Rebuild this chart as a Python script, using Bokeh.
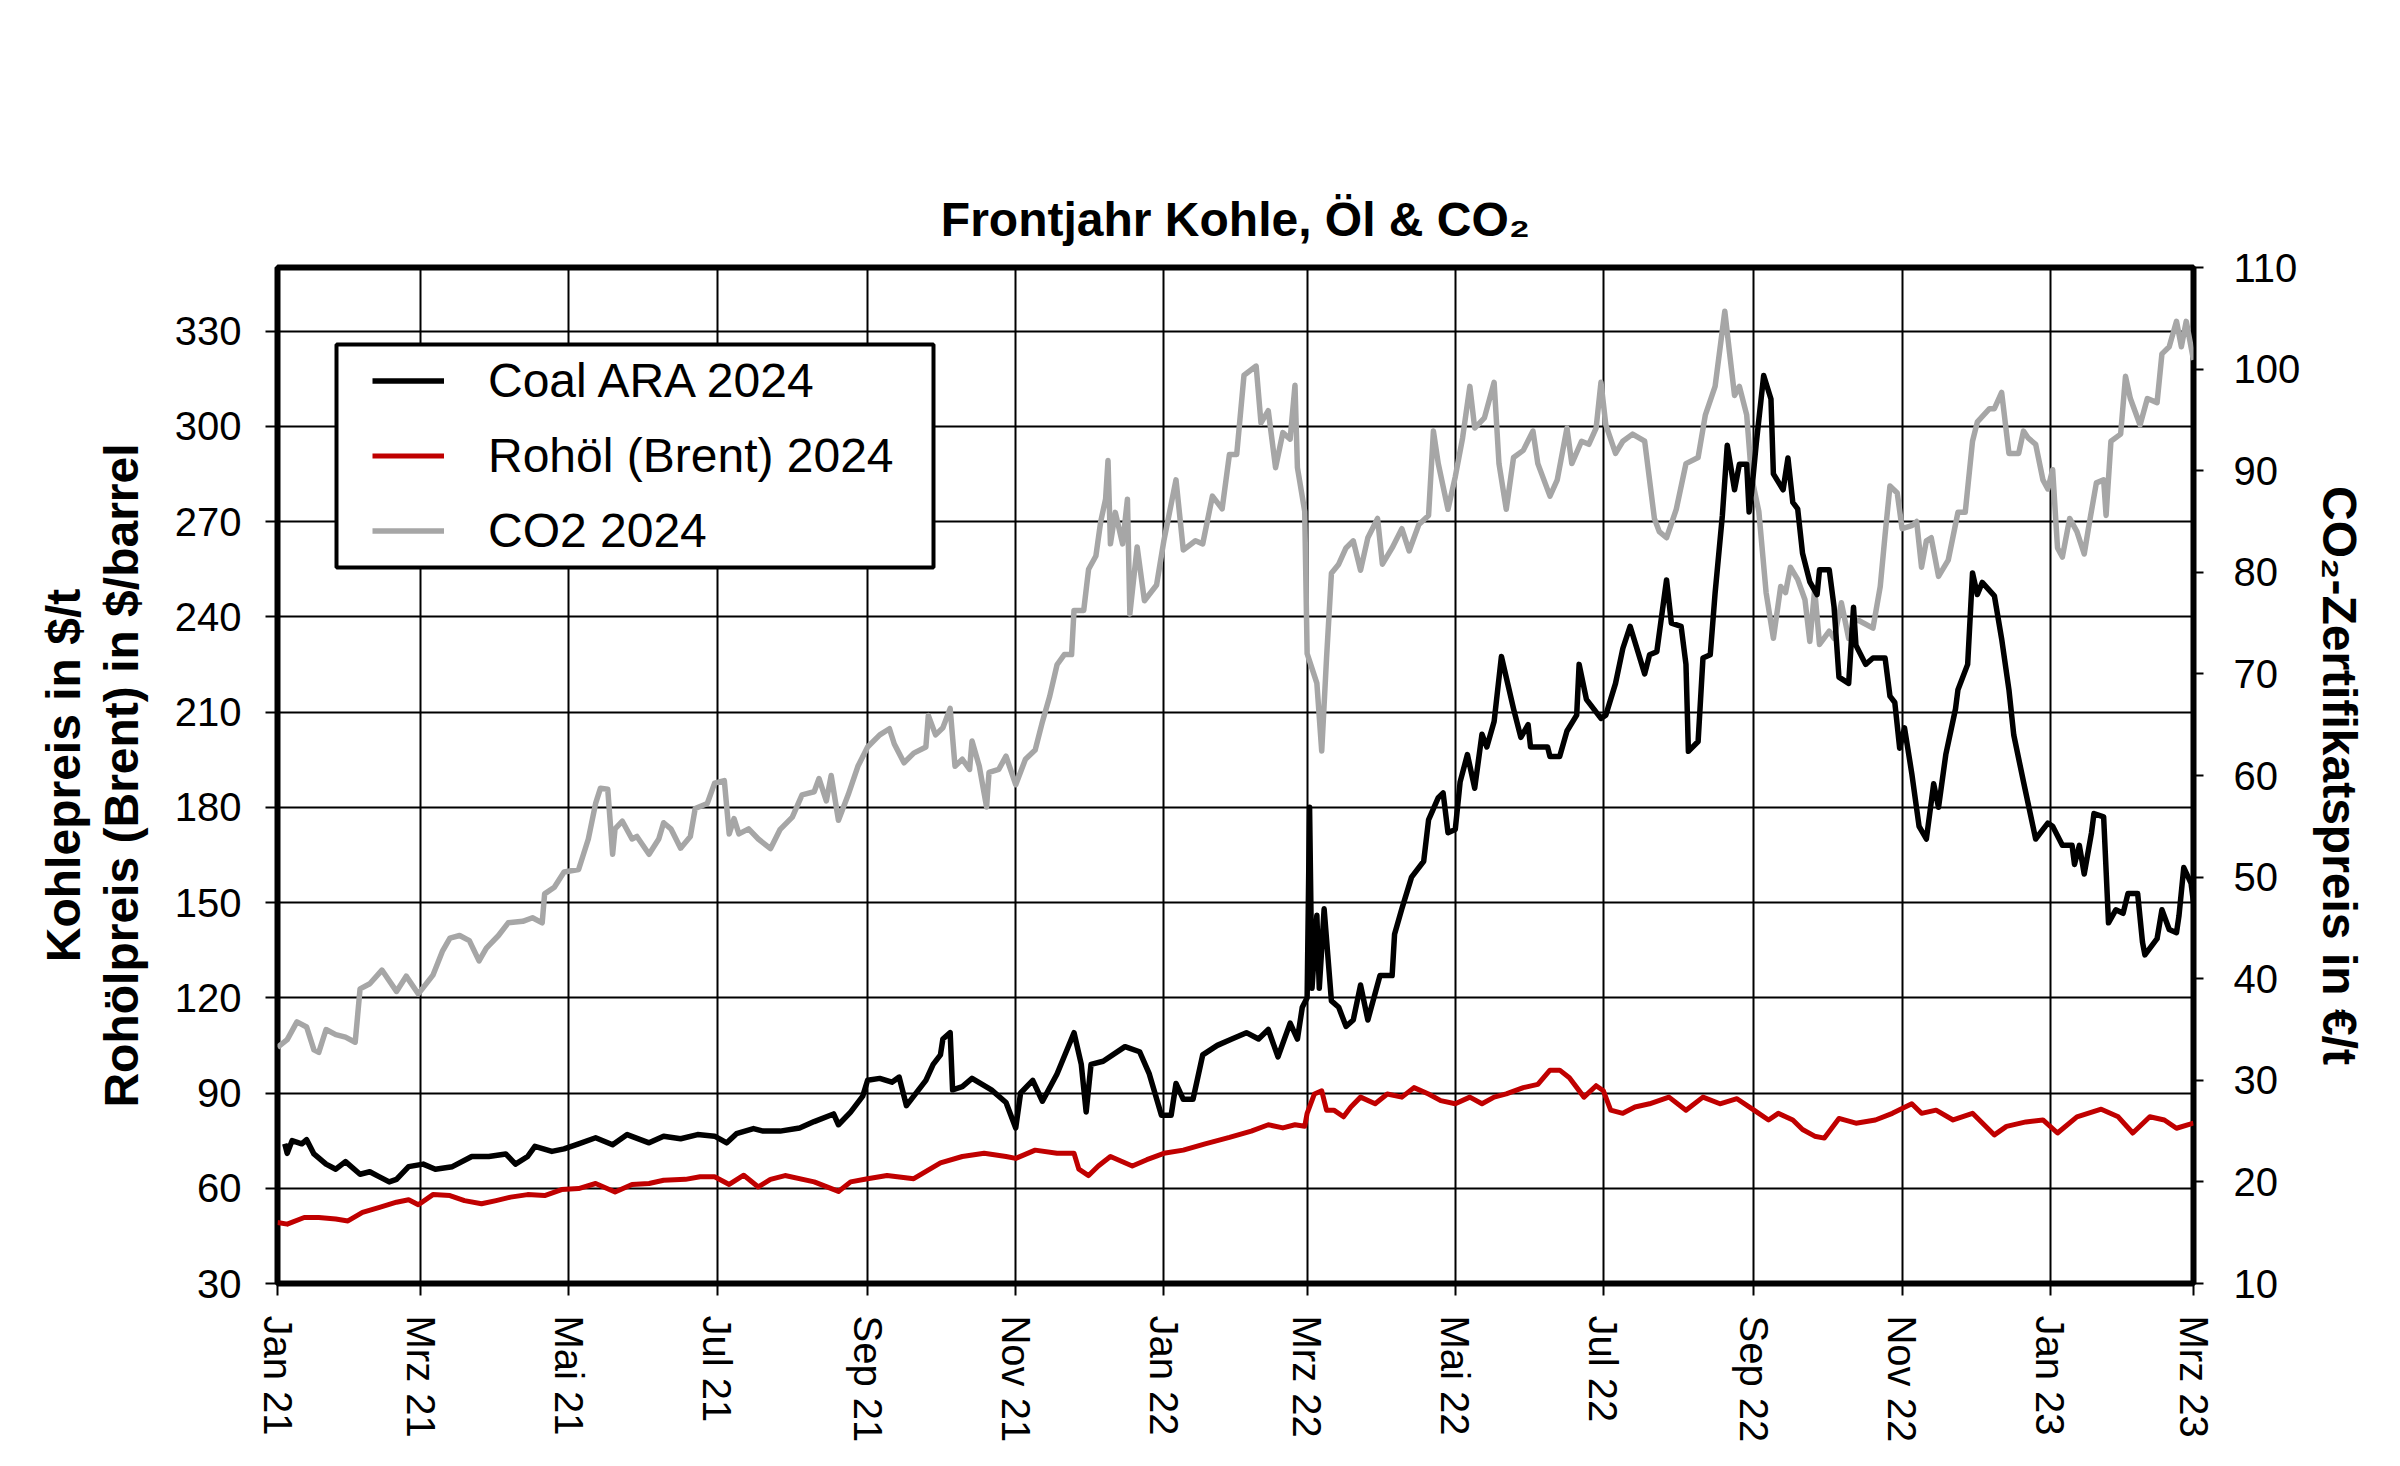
import pandas as pd
from bokeh.plotting import figure
from bokeh.models import (Range1d, LinearAxis, FixedTicker, Legend, LegendItem,
                          ColumnDataSource, BoxAnnotation)
from bokeh.embed import file_html
from bokeh.resources import INLINE

START = pd.Timestamp("2021-01-01")
END = pd.Timestamp("2023-03-01")

# ---- data (day offsets from START) ----
coal_day = [3, 4, 6, 10, 12, 15, 20, 24, 28, 34, 38, 42, 46, 49, 54, 60, 65, 72, 80, 87,
            94, 98, 103, 106, 113, 118, 124, 131, 138, 144, 153, 159, 166, 173, 180, 185, 189, 196, 200, 207,
            215, 221, 229, 231, 236, 241, 243, 248, 253, 256, 259, 262, 267, 270, 273, 274, 277, 278, 282, 286,
            294, 300, 304, 306, 311, 315, 321, 328, 331, 333, 335, 340, 349, 355, 359, 364, 368, 370, 373, 377,
            381, 387, 393, 399, 404, 408, 412, 417, 420, 422, 424, 425, 426, 428, 429, 431, 434, 437, 440, 443,
            446, 449, 454, 459, 460, 463, 467, 472, 474, 478, 480, 482, 485, 487, 490, 493, 496, 498, 501, 504,
            509, 512, 515, 516, 523, 524, 528, 531, 535, 536, 539, 545, 547, 551, 554, 557, 563, 565, 568, 572,
            574, 578, 580, 581, 585, 587, 590, 592, 595, 597, 600, 602, 605, 606, 607, 609, 612, 615, 616, 620,
            622, 624, 626, 628, 631, 634, 635, 639, 641, 643, 647, 649, 650, 654, 657, 662, 664, 666, 668, 670,
            673, 676, 679, 682, 684, 687, 691, 692, 696, 698, 700, 702, 707, 710, 713, 715, 719, 724, 729, 731,
            735, 739, 740, 742, 744, 747, 748, 752, 754, 757, 760, 762, 766, 768, 769, 774, 776, 779, 782, 783,
            785, 788, 789]
coal_val = [74, 71, 75, 74, 75.3, 70.8, 67.6, 66, 68.4, 64.4, 65.2, 63.6, 62, 62.8, 66.8, 67.6, 66, 66.8, 70, 70,
            70.8, 67.6, 70, 73.2, 71.6, 72.4, 74, 75.9, 73.7, 76.9, 74.3, 76.4, 75.6, 76.9, 76.4, 74.3, 77.2, 78.8, 78, 78,
            79, 81, 83.4, 80, 84, 89, 94, 94.6, 93.4, 95, 86, 89, 94, 99, 102, 107, 109, 91, 92, 94.6,
            91, 87, 79, 90, 94, 87.4, 96, 109, 99, 84, 99, 100, 104.6, 103, 96, 83, 83, 93, 88, 88,
            102, 105, 107, 109, 107, 110, 101.4, 112, 107, 117, 120, 180, 123, 146, 123, 148, 119, 117, 111, 113,
            124, 113, 127, 127, 140, 148, 158, 163, 176, 183, 184.5, 172, 173, 188, 196.6, 186, 203, 199, 207, 227.5,
            211, 202, 206, 199, 199, 196, 196, 204, 209, 225, 214, 208, 209, 219, 230, 237, 222, 228, 229, 251.6,
            238, 237, 225, 197.6, 200.7, 227, 228, 247.5, 272, 294, 280, 288, 288, 273, 279, 295, 316, 308.6, 285, 280,
            290, 276, 274, 260, 251, 247, 254.8, 254.8, 243, 221, 219, 243, 231, 225, 227, 227, 215, 213, 198.6, 205,
            190.6, 174, 170, 187.4, 180, 196.6, 211, 217, 225, 253.8, 247, 250.8, 246.6, 233, 217, 202.7, 188, 170, 175, 174,
            168, 168, 162, 168, 159, 172, 178, 177, 143.6, 147.7, 146.6, 152.8, 152.8, 137.5, 133.5, 138.6, 147.7, 141.5, 140.5, 145.7,
            161, 156, 150]

oil_day = [0, 4, 11, 17, 24, 29, 35, 42, 49, 54, 58, 64, 71, 77, 84, 90, 96, 103, 110, 117,
           124, 131, 139, 146, 153, 159, 168, 174, 180, 186, 192, 198, 203, 209, 221, 231, 236, 243, 251, 262,
           273, 282, 291, 300, 304, 312, 321, 328, 330, 334, 338, 343, 352, 358, 365, 373, 382, 392, 401, 408,
           414, 419, 423, 424, 427, 430, 432, 435, 439, 442, 446, 452, 457, 463, 468, 474, 479, 485, 491, 496,
           501, 506, 513, 519, 524, 528, 532, 538, 543, 546, 549, 554, 559, 565, 573, 580, 587, 594, 601, 608,
           614, 618, 624, 628, 633, 637, 643, 650, 658, 665, 673, 677, 683, 690, 698, 707, 712, 720, 727, 733,
           741, 751, 758, 764, 771, 777, 782, 789]
oil_val = [49.2, 48.7, 50.8, 50.8, 50.3, 49.7, 52.4, 54, 55.6, 56.4, 54.8, 58, 57.7, 56.1, 55.1, 56.1, 57.2, 58, 57.7, 59.6,
           59.9, 61.5, 58.8, 61.2, 61.5, 62.5, 62.8, 63.6, 63.6, 61.2, 64.1, 60.4, 62.8, 64, 62, 59, 62, 63, 64, 63,
           68, 70, 71, 70, 69.4, 72, 71, 71, 66, 64, 67, 70, 67, 69, 71, 72, 74, 76, 78, 80,
           79, 80, 79.5, 83.6, 89.7, 90.7, 84.6, 84.6, 82.5, 85.6, 88.7, 86.6, 89.7, 88.7, 91.7, 89.7, 87.6, 86.6, 88.7, 86.6,
           88.7, 89.7, 91.7, 92.7, 97.2, 97.2, 94.8, 88.7, 92.3, 90.7, 84.6, 83.6, 85.6, 86.6, 88.7, 84.6, 88.7, 86.6, 88.2, 84.6,
           81.5, 83.6, 81.5, 78.5, 76.4, 75.8, 82, 80.5, 81.5, 83.6, 86.6, 83.6, 84.6, 81.5, 83.6, 76.8, 79.5, 80.9, 81.5, 77.4,
           82.5, 84.9, 82.5, 77.4, 82.5, 81.5, 78.9, 80.5]

co2_day = [0, 4, 8, 12, 15, 17, 20, 24, 28, 32, 34, 38, 43, 49, 53, 58, 64, 68, 71, 75,
           79, 83, 86, 91, 95, 101, 105, 109, 110, 114, 118, 124, 128, 131, 133, 136, 138, 139, 142, 146,
           148, 153, 157, 159, 162, 166, 170, 172, 177, 180, 184, 186, 188, 190, 194, 198, 203, 207, 212, 216,
           221, 223, 226, 228, 231, 235, 239, 243, 248, 252, 254, 258, 262, 267, 268, 271, 274, 277, 279, 282,
           285, 286, 289, 292, 293, 297, 300, 304, 308, 312, 315, 318, 321, 324, 327, 328, 332, 334, 337, 339,
           341, 342, 343, 345, 348, 350, 351, 354, 357, 362, 365, 370, 373, 378, 381, 385, 389, 392, 395, 398,
           403, 405, 408, 411, 414, 417, 419, 420, 423, 424, 428, 430, 432, 434, 437, 440, 443, 446, 449, 453,
           455, 459, 463, 466, 470, 474, 476, 478, 482, 485, 488, 491, 493, 497, 501, 503, 506, 509, 513, 517,
           519, 524, 527, 531, 533, 537, 540, 543, 545, 547, 551, 554, 558, 563, 567, 569, 572, 576, 580, 585,
           588, 592, 596, 598, 600, 602, 605, 607, 610, 613, 616, 619, 621, 623, 626, 629, 631, 633, 635, 639,
           641, 644, 647, 650, 657, 660, 662, 664, 667, 669, 673, 675, 677, 679, 681, 684, 688, 692, 695, 698,
           700, 705, 707, 710, 713, 717, 719, 721, 724, 727, 729, 731, 733, 735, 738, 741, 744, 746, 749, 752,
           753, 755, 759, 761, 763, 767, 770, 774, 776, 779, 782, 784, 786, 789]
co2_val = [33.25, 34, 35.75, 35.25, 33, 32.75, 35, 34.5, 34.25, 33.75, 39, 39.5, 40.85, 38.75, 40.25, 38.5, 40.35, 42.75, 44, 44.25,
           43.75, 41.75, 43, 44.25, 45.5, 45.65, 46, 45.5, 48.35, 49, 50.5, 50.75, 53.75, 57.25, 58.75, 58.65, 52.25, 54.75, 55.5, 53.75,
           54, 52.25, 53.75, 55.35, 54.75, 52.85, 54, 56.75, 57.25, 59.25, 59.5, 54.25, 55.75, 54.25, 54.75, 53.75, 52.8, 54.7, 55.9, 58.1,
           58.4, 59.7, 57.5, 60, 55.6, 58.1, 60.9, 62.8, 64, 64.6, 63.1, 61.25, 62.2, 62.8, 65.9, 64, 64.7, 66.6, 60.9, 61.6,
           60.6, 63.4, 60.9, 56.9, 60.3, 60.6, 61.9, 59.1, 61.6, 62.5, 65.3, 67.8, 70.9, 71.9, 71.9, 76.25, 76.25, 80.3, 81.6, 85,
           87.2, 91, 82.8, 85.9, 82.8, 87.2, 75.9, 82.5, 77.2, 78.75, 83.1, 89.1, 82.2, 83.1, 82.8, 87.5, 86.25, 91.6, 91.6, 99.4,
           100.3, 94.7, 95.9, 90.3, 93.75, 93.1, 98.4, 90.3, 86, 72, 69.1, 62.4, 71.6, 79.9, 80.8, 82.4, 83.1, 80.2, 83.4, 85.3,
           80.8, 82.4, 84.3, 82.1, 84.7, 85.6, 93.9, 90.7, 86.2, 89.4, 93.2, 98.3, 94.2, 95.2, 98.7, 90.7, 86.2, 91.3, 92, 93.9,
           90.7, 87.5, 89.1, 94.2, 90.7, 92.9, 92.6, 94.2, 98.7, 94.5, 91.7, 92.9, 93.6, 92.9, 85.3, 84, 83.4, 86.2, 90.7, 91.3,
           95.5, 98.3, 105.7, 101.5, 97.4, 98.3, 95.5, 89.4, 86, 78, 73.5, 78.6, 78, 80.5, 79.3, 77.3, 73.2, 78.3, 72.9, 74.2,
           73.5, 77, 73.5, 75.4, 74.5, 78.6, 83.7, 88.5, 87.8, 84.3, 84.6, 85, 80.5, 83.1, 83.4, 79.6, 81.2, 85.9, 85.9, 92.9,
           94.8, 96.1, 96.1, 97.7, 91.7, 91.7, 93.9, 93.2, 92.6, 89.1, 88.2, 90.1, 82.4, 81.5, 85.3, 84, 81.8, 84.7, 88.8, 89.1,
           85.6, 92.9, 93.6, 99.3, 97.1, 94.5, 97.1, 96.7, 101.5, 102.2, 104.7, 102.2, 104.7, 100.9]

left_ticks = [30, 60, 90, 120, 150, 180, 210, 240, 270, 300, 330]
right_ticks = [10, 20, 30, 40, 50, 60, 70, 80, 90, 100, 110]
month_labels = ["Jan 21", "Mrz 21", "Mai 21", "Jul 21", "Sep 21", "Nov 21", "Jan 22",
                "Mrz 22", "Mai 22", "Jul 22", "Sep 22", "Nov 22", "Jan 23", "Mrz 23"]

FONT = "Liberation Sans"


def to_dates(days):
    return START + pd.to_timedelta(days, unit="D")


def to_ms(ts):
    return float((pd.Timestamp(ts) - pd.Timestamp("1970-01-01")) / pd.Timedelta(milliseconds=1))


tick_dates = pd.date_range(START, END, freq="2MS")
tick_ms = [to_ms(t) for t in tick_dates]

W, H = 2384, 1450
FL, FR, FT, FB = 277, 2193, 267, 1283   # frame edges in page pixels
p = figure(width=W, height=H, output_backend="svg", toolbar_location=None,
           x_axis_type="linear",
           x_range=Range1d(to_ms(START), to_ms(END)), y_range=Range1d(30, 350),
           min_border_left=FL, min_border_right=W - FR,
           min_border_top=FT, min_border_bottom=H - FB)
p.extra_y_ranges = {"co2": Range1d(10, 110)}
p.background_fill_color = "white"
p.border_fill_color = "white"
p.outline_line_color = "black"
p.outline_line_width = 6

p.title.text = "Frontjahr Kohle, Öl & CO\u2082"
p.title.text_font = FONT
p.title.text_font_size = "48px"
p.title.text_font_style = "bold"
p.title.text_color = "black"
p.title.align = "center"
p.title.standoff = 43

# x axis
xa = p.xaxis[0]
xa.ticker = FixedTicker(ticks=tick_ms)
xa.major_label_overrides = {t: lab for t, lab in zip(tick_ms, month_labels)}
xa.major_label_orientation = "vertical"
xa.major_label_text_font = FONT
xa.major_label_text_font_size = "40px"
xa.major_label_text_color = "black"
xa.major_label_standoff = 20
xa.major_tick_out = 12
xa.major_tick_in = 0
xa.major_tick_line_color = "black"
xa.major_tick_line_width = 2
xa.minor_tick_line_color = None
xa.axis_line_color = None

# left axis
ya = p.yaxis[0]
ya.ticker = FixedTicker(ticks=left_ticks)
ya.axis_label = "Rohölpreis (Brent) in $/barrel"
ya.axis_label_text_font = FONT
ya.axis_label_text_font_style = "bold"
ya.axis_label_text_font_size = "48px"
ya.axis_label_text_color = "black"
ya.axis_label_standoff = 24
ya.major_label_text_font = FONT
ya.major_label_text_font_size = "40px"
ya.major_label_text_color = "black"
ya.major_label_standoff = 24
ya.major_tick_out = 12
ya.major_tick_in = 0
ya.major_tick_line_color = "black"
ya.major_tick_line_width = 2
ya.minor_tick_line_color = None
ya.axis_line_color = None

ya2 = LinearAxis(ticker=FixedTicker(ticks=[]), axis_label="Kohlepreis in $/t")
ya2.axis_label_text_font = FONT
ya2.axis_label_text_font_style = "bold"
ya2.axis_label_text_font_size = "48px"
ya2.axis_label_text_color = "black"
ya2.axis_label_standoff = 2
ya2.major_tick_out = 0
ya2.major_tick_in = 0
ya2.major_label_standoff = 0
ya2.minor_tick_line_color = None
ya2.major_tick_line_color = None
ya2.axis_line_color = None
p.add_layout(ya2, "left")

# right axis
ra = LinearAxis(y_range_name="co2", ticker=FixedTicker(ticks=right_ticks),
                axis_label="CO\u2082-Zertifikatspreis in €/t")
ra.axis_label_text_font = FONT
ra.axis_label_text_font_style = "bold"
ra.axis_label_text_font_size = "48px"
ra.axis_label_text_color = "black"
ra.axis_label_standoff = 10
ra.major_label_text_font = FONT
ra.major_label_text_font_size = "40px"
ra.major_label_text_color = "black"
ra.major_label_standoff = 30
ra.major_tick_out = 10
ra.major_tick_in = 0
ra.major_tick_line_color = "black"
ra.major_tick_line_width = 2
ra.minor_tick_line_color = None
ra.axis_line_color = None
p.add_layout(ra, "right")

for g in (p.xgrid[0], p.ygrid[0]):
    g.grid_line_color = "black"
    g.grid_line_width = 2

src_co2 = ColumnDataSource(dict(x=to_dates(co2_day), y=co2_val))
src_coal = ColumnDataSource(dict(x=to_dates(coal_day), y=coal_val))
src_oil = ColumnDataSource(dict(x=to_dates(oil_day), y=oil_val))

r_co2 = p.line("x", "y", source=src_co2, y_range_name="co2", line_color="#a6a6a6", line_width=5.5,
               line_join="round")
r_coal = p.line("x", "y", source=src_coal, line_color="black", line_width=5.5, line_join="round")
r_oil = p.line("x", "y", source=src_oil, line_color="#c00000", line_width=5, line_join="round")

# legend frame (page px: left 336, right 933, top 344, bottom 567), offsets from frame bottom-left
box = BoxAnnotation(left=336 - FL, right=933 - FL, top=FB - 344, bottom=FB - 567,
                    left_units="screen", right_units="screen", top_units="screen", bottom_units="screen",
                    fill_color="white", fill_alpha=1, line_color="black", line_alpha=1, line_width=4)
p.add_layout(box)

legend = Legend(items=[LegendItem(label="Coal ARA 2024", renderers=[r_coal]),
                       LegendItem(label="Rohöl (Brent) 2024", renderers=[r_oil]),
                       LegendItem(label="CO2 2024", renderers=[r_co2])],
                location=(372 - FL, FB - 558))
legend.border_line_color = None
legend.background_fill_alpha = 0
legend.label_text_font = FONT
legend.label_text_font_size = "48px"
legend.label_text_color = "black"
legend.glyph_width = 72
legend.glyph_height = 55
legend.label_height = 55
legend.spacing = 20
legend.padding = 0
legend.label_standoff = 44
legend.margin = 0
p.add_layout(legend, "center")

open("out.html", "w").write(file_html(p, INLINE))
